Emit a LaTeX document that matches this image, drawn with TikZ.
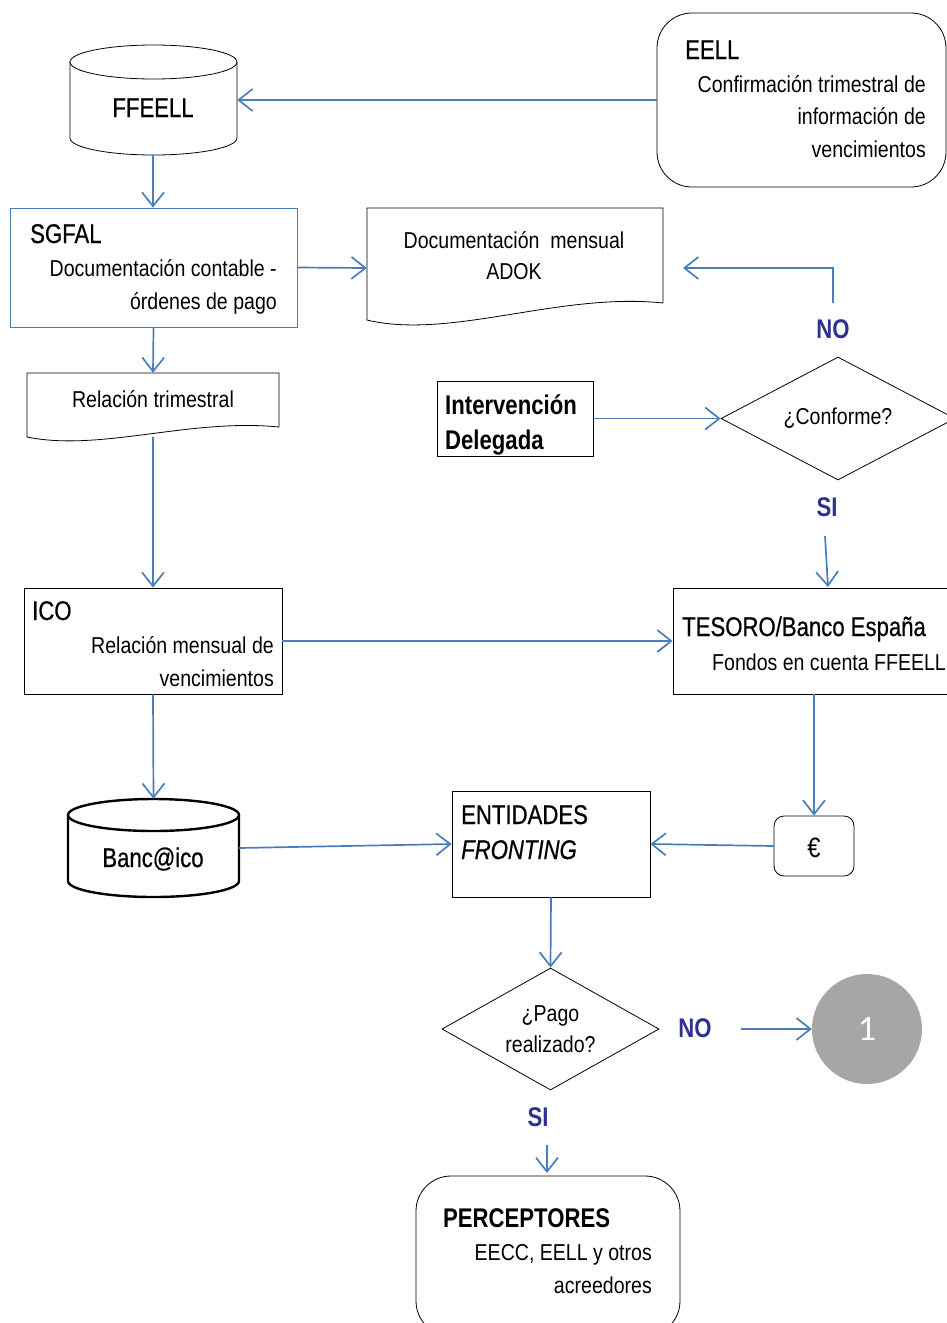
\documentclass[tikz,border=0pt]{standalone}
\usepackage{fontspec}
\setmainfont{Liberation Sans}[FakeStretch=0.85]
\newfontfamily\titlefont{Liberation Sans}[FakeStretch=0.82,FakeBold=0.6]
\newfontfamily\titleboldfont{Liberation Sans}[FakeStretch=0.82]
\newfontfamily\onefont{Carlito}
\usetikzlibrary{arrows.meta,calc,shapes.geometric}
\definecolor{lineblue}{RGB}{74,126,187}
\definecolor{labelblue}{RGB}{46,49,146}
\definecolor{circgray}{RGB}{166,166,166}
\begin{document}
\begin{tikzpicture}[x=1pt,y=-1pt,
  flow/.style={draw=lineblue, line width=1.7pt, -{Straight Barb[length=14pt,width=22pt,line width=1.7pt]}},
  body/.style={font=\fontsize{23}{27}\selectfont, inner sep=0pt},
  ttl/.style={font=\titlefont\fontsize{27}{31}\selectfont, inner sep=0pt},
  ttlb/.style={font=\titleboldfont\bfseries\fontsize{27}{31}\selectfont, inner sep=0pt},
  lbl/.style={font=\titleboldfont\bfseries\fontsize{27}{31}\selectfont, text=labelblue, inner sep=0pt},
  box/.style={draw=black, line width=0.8pt, inner sep=0pt},
  ghost/.style={inner sep=0pt},
  decision/.style={diamond, draw=black, line width=0.8pt, inner sep=0pt, aspect=1.8, align=center, font=\fontsize{23}{31}\selectfont}
]
\useasboundingbox (0,0) rectangle (947,1323);

% ---------- FFEELL cylinder ----------
\node[ghost, minimum width=167pt, minimum height=110pt] (ffeell) at (153.5,100) {};
\draw[line width=0.8pt] (153.5,62) ellipse [x radius=83.5, y radius=17];
\draw[line width=0.8pt] (70,62) -- (70,138) arc[start angle=180, end angle=0, x radius=83.5, y radius=17] -- (237,62);
\node[ttl, anchor=base] at (153,117) {FFEELL};

% ---------- EELL ----------
\node[box, rounded corners=35pt, minimum width=289pt, minimum height=174pt] (eell) at (801.5,100) {};
\node[ttl, anchor=base west] at (685,59) {EELL};
\node[body, anchor=base east] at (926,92) {Confirmación trimestral de};
\node[body, anchor=base east] at (926,124) {información de};
\node[body, anchor=base east] at (926,157) {vencimientos};

% ---------- SGFAL ----------
\node[box, draw=lineblue, minimum width=287pt, minimum height=119pt] (sgfal) at (153.5,267.5) {};
\node[ttl, anchor=base west] at (30,243) {SGFAL};
\node[body, anchor=base east] at (277,276) {Documentación contable -};
\node[body, anchor=base east] at (277,309) {órdenes de pago};

% ---------- Documentación mensual (document) ----------
\node[ghost, minimum width=296pt, minimum height=120pt] (docm) at (515,268) {};
\draw[line width=0.8pt] (367,208) -- (663,208) -- (663,303)
  .. controls (560,292) and (450,340) .. (367,320) -- cycle;
\node[body, anchor=base] at (514,248) {Documentación\ \ mensual};
\node[body, anchor=base] at (514,279) {ADOK};

% ---------- Relación trimestral (document) ----------
\node[ghost, minimum width=252pt, minimum height=64pt] (rt) at (153,405) {};
\draw[line width=0.8pt] (27,373) -- (279,373) -- (279,427)
  .. controls (190,418) and (100,452) .. (27,437) -- cycle;
\node[body, anchor=base] at (153,407) {Relación trimestral};

% ---------- Intervención Delegada ----------
\node[box, minimum width=156pt, minimum height=75pt] (int) at (515,418.5) {};
\node[ttlb, anchor=base west] at (445,414) {Intervención};
\node[ttlb, anchor=base west] at (445,449) {Delegada};

% ---------- Conforme ----------
\node[decision, minimum width=234pt, minimum height=123pt] (conf) at (838,418.5) {¿Conforme?};
\node[lbl, anchor=base] (no1) at (833,338) {NO};
\node[lbl, anchor=base] (si1) at (827,516) {SI};

% ---------- ICO ----------
\node[box, minimum width=258pt, minimum height=106pt] (ico) at (153,641) {};
\node[ttl, anchor=base west] at (32,620) {ICO};
\node[body, anchor=base east] at (274,653) {Relación mensual de};
\node[body, anchor=base east] at (274,686) {vencimientos};

% ---------- TESORO ----------
\node[box, minimum width=280pt, minimum height=106pt] (tes) at (813,641) {};
\node[ttl, anchor=base west] at (682,636) {TESORO/Banco España};
\node[body, anchor=base west] at (712,670) {Fondos en cuenta FFEELL};

% ---------- Euro ----------
\node[box, rounded corners=10pt, minimum width=80pt, minimum height=60pt] (eur) at (814,846) {};
\node[body, font=\fontsize{28}{32}\selectfont, anchor=base] at (814,857) {€};

% ---------- Banc@ico cylinder ----------
\node[ghost, minimum width=171pt, minimum height=98pt] (banc) at (153.5,848) {};
\draw[line width=2.4pt] (153.5,815) ellipse [x radius=85.5, y radius=16];
\draw[line width=2.4pt] (68,815) -- (68,881) arc[start angle=180, end angle=0, x radius=85.5, y radius=16] -- (239,815);
\node[ttl, anchor=base] at (153,867) {Banc@ico};

% ---------- ENTIDADES FRONTING ----------
\node[box, minimum width=198pt, minimum height=106pt] (ent) at (551,844) {};
\node[ttl, anchor=base west] at (461,824) {ENTIDADES};
\node[ttl, anchor=base west] at (461,859) {\itshape FRONTING};

% ---------- Pago realizado ----------
\node[decision, minimum width=217pt, minimum height=122pt] (pago) at (550.5,1029) {¿Pago\\realizado?};
\node[lbl, anchor=base] (no2) at (695,1037) {NO};
\node[lbl, anchor=base] (si2) at (538,1126) {SI};

% ---------- Circle 1 ----------
\node[circle, fill=circgray, minimum size=110pt, inner sep=0pt, text=white,
  font=\onefont\fontsize{36}{40}\selectfont] (c1) at (867,1029) {1};

% ---------- PERCEPTORES ----------
\node[box, rounded corners=35pt, minimum width=264pt, minimum height=160pt] (perc) at (548,1256) {};
\node[ttlb, anchor=base west] at (443,1227) {PERCEPTORES};
\node[body, anchor=base east] at (652,1260) {EECC, EELL y otros};
\node[body, anchor=base east] at (652,1293) {acreedores};

% ---------- connectors ----------
\coordinate (noTop) at (833,303);
\coordinate (docIn) at (683,268);
\coordinate (siA) at (825,536);
\coordinate (siB) at (828,587);
\coordinate (si2A) at (547,1145);
\coordinate (si2B) at (547,1173);
\coordinate (no2A) at (741,1029);

\draw[flow] (eell.west |- ffeell.east) -- (ffeell.east);
\draw[flow] (153,155) -- (sgfal.north -| 153,0);
\draw[flow] (sgfal.east) -- (docm.west);
\draw[flow] (noTop) |- (docIn);
\draw[flow] (sgfal.south) -- (rt.north);
\draw[flow] (int.east) -- (conf.west);
\draw[flow] (siA) -- (siB);
\draw[flow] (153,437) -- (ico.north);
\draw[flow] (ico.east) -- (tes.west);
\draw[flow] (ico.south) -- (banc.north);
\draw[flow] (tes.south -| eur.north) -- (eur.north);
\draw[flow] (eur.west) -- (ent.east);
\draw[flow] (banc.east) -- (ent.west);
\draw[flow] (ent.south) -- (pago.north);
\draw[flow] (no2A) -- (c1.west);
\draw[flow] (si2A) -- (si2B);
\end{tikzpicture}
\end{document}
